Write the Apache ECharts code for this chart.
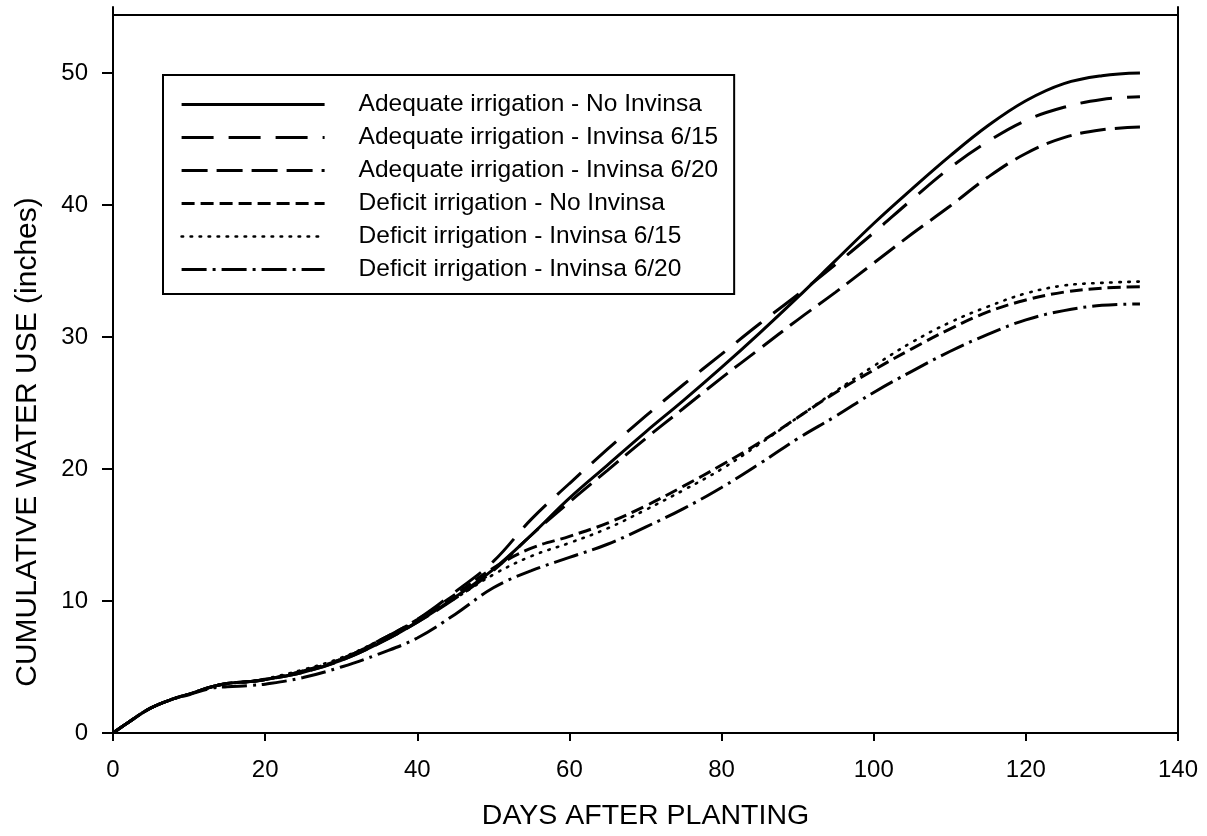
<!DOCTYPE html>
<html>
<head>
<meta charset="utf-8">
<script src="https://cdn.jsdelivr.net/npm/echarts@6/dist/echarts.min.js"></script>
<style>html,body{margin:0;padding:0;background:#fff}#c{width:1207px;height:836px}</style>
</head>
<body>
<div id="c"></div>
<script>
var days = [0,2,5,8,10,13,15,18,20,25,30,35,40,45,50,55,60,65,70,75,80,85,90,95,100,105,110,115,120,125,130,135];
var adequateNoInvinsa = [0,0.8,1.9,2.6,2.95,3.5,3.75,3.9,4.05,4.6,5.5,6.8,8.4,10.3,12.4,15.0,17.8,20.3,22.8,25.2,27.7,30.3,33.0,35.8,38.6,41.2,43.7,46.0,47.9,49.2,49.8,50.0];
var adequateInvinsa615 = [0,0.8,1.9,2.6,2.95,3.5,3.75,3.9,4.05,4.7,5.6,7.0,8.6,10.7,13.0,16.2,18.9,21.5,24.0,26.4,28.7,31.0,33.2,35.5,37.9,40.4,42.8,44.8,46.4,47.4,48.0,48.2];
var adequateInvinsa620 = [0,0.8,1.9,2.6,2.95,3.5,3.75,3.9,4.05,4.6,5.5,6.8,8.4,10.2,12.3,15.0,17.5,19.9,22.3,24.6,26.9,29.1,31.3,33.4,35.6,37.8,39.9,42.1,43.9,45.1,45.7,45.9];
var deficitNoInvinsa = [0,0.8,1.9,2.6,2.95,3.5,3.75,3.9,4.05,4.7,5.6,7.0,8.6,10.5,12.5,14.0,14.9,15.9,17.2,18.7,20.3,22.0,23.9,25.8,27.5,29.1,30.6,31.9,32.8,33.4,33.7,33.8];
var deficitInvinsa615 = [0,0.8,1.9,2.6,2.95,3.5,3.75,3.9,4.1,4.8,5.7,7.0,8.5,10.2,12.0,13.4,14.4,15.5,16.9,18.4,20.0,21.9,23.9,25.9,27.8,29.6,31.1,32.3,33.3,33.9,34.1,34.2];
var deficitInvinsa620 = [0,0.8,1.9,2.6,2.9,3.4,3.5,3.6,3.7,4.2,5.0,6.0,7.2,9.0,11.0,12.3,13.3,14.3,15.6,17.0,18.6,20.4,22.3,24.0,25.8,27.4,28.9,30.2,31.3,32.0,32.4,32.5];
var seriesNames = ['Adequate irrigation - No Invinsa','Adequate irrigation - Invinsa 6/15','Adequate irrigation - Invinsa 6/20','Deficit irrigation - No Invinsa','Deficit irrigation - Invinsa 6/15','Deficit irrigation - Invinsa 6/20'];
var xTicks = [0,20,40,60,80,100,120,140];
var yTicks = [0,10,20,30,40,50];

var allValues = [adequateNoInvinsa,adequateInvinsa615,adequateInvinsa620,deficitNoInvinsa,deficitInvinsa615,deficitInvinsa620];
var dashes = ['solid',[32,15],[26,9],[13,6],[1.5,7.5],[25,6,3,6]];
var widths = [3,3,3,3,2.6,3];
var FONT = 'Liberation Sans, Arial, sans-serif';

function pairs(v){ return days.map(function(d,i){ return [d, v[i]]; }); }

var series = allValues.map(function(v,i){
  var s = {
    name: seriesNames[i], type:'line', data: pairs(v), smooth: 0.4,
    symbol:'none', showSymbol:false, animation:false,
    lineStyle:{color:'#000', width: widths[i], type: dashes[i], cap: i===4 ? 'round':'butt'},
    itemStyle:{color:'#000'}
  };
  if(i===0){
    s.markLine = {silent:true, symbol:'none', label:{show:false}, animation:false,
      lineStyle:{color:'#000', width:2, type:'solid'},
      data:[[{coord:[0,54.4]},{coord:[140,54.4]}]]};
  }
  return s;
});

var legendData = seriesNames.map(function(n,i){
  return {name:n, lineStyle:{color:'#000', width: i===4 ? 2.6 : 3.2, type: dashes[i], cap: i===4 ? 'round':'butt'}};
});

var chart = echarts.init(document.getElementById('c'), null, {renderer:'canvas'});
chart.setOption({
  backgroundColor:'#fff',
  animation:false,
  grid:{left:113, right:29, top:7, bottom:102},
  legend:{
    orient:'vertical', left:163, top:75,
    data: legendData,
    borderColor:'#000', borderWidth:2, borderRadius:0,
    padding:[17,16,12,17],
    itemWidth:143, itemHeight:14, itemGap:8,
    itemStyle:{opacity:0},
    textStyle:{color:'#000', fontSize:24.5, lineHeight:25, fontFamily:FONT, padding:[0,0,0,29]},
    selectedMode:false
  },
  xAxis:{
    type:'value', min:0, max:140, interval:20,
    name:'DAYS AFTER PLANTING', nameLocation:'middle', nameGap:69,
    nameTextStyle:{color:'#000', fontSize:28.5, fontFamily:FONT},
    axisLine:{show:true, onZero:false, lineStyle:{color:'#000', width:2}},
    axisTick:{show:true, length:8, lineStyle:{color:'#000', width:2}, customValues: xTicks},
    axisLabel:{color:'#000', fontSize:24, fontFamily:FONT, margin:25, customValues: xTicks},
    splitLine:{show:false}
  },
  yAxis:[{
    type:'value', min:0, max:55,
    axisLine:{show:true, onZero:false, lineStyle:{color:'#000', width:2}},
    axisTick:{show:true, length:11, lineStyle:{color:'#000', width:2}, customValues: yTicks},
    axisLabel:{color:'#000', fontSize:24, fontFamily:FONT, margin:25, customValues: yTicks},
    splitLine:{show:false}
  },{
    type:'value', min:0, max:55, position:'right',
    axisLine:{show:true, onZero:false, lineStyle:{color:'#000', width:2}},
    axisTick:{show:false}, axisLabel:{show:false}, splitLine:{show:false}
  }],
  graphic:[{
    type:'text', x:28, y:442, rotation:Math.PI/2,
    style:{text:'CUMULATIVE WATER USE (inches)', fill:'#000', fontSize:30, fontFamily:FONT, textAlign:'center', textVerticalAlign:'middle'}
  }],
  series: series
});
</script>
</body>
</html>
